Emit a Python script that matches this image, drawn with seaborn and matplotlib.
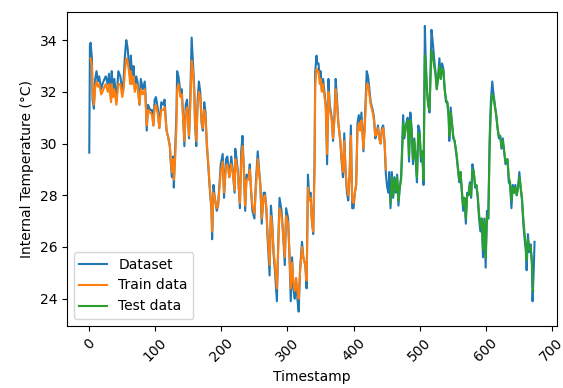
import matplotlib
matplotlib.use("Agg")
import matplotlib.pyplot as plt
import seaborn as sns
import pandas as pd

# ---- Dataset (blue) ----
data_t = [0, 1, 2, 4, 5, 7, 9, 11, 13, 15, 18, 20, 23, 25, 28, 30, 33, 34, 36, 38, 41, 44, 47, 50, 52, 54, 56, 58, 60, 62,
          63, 65, 67, 69, 71, 73, 76, 78, 81, 84, 85, 87, 89, 92, 95, 97, 99, 101, 104, 106, 109, 112, 114, 117, 119, 122,
          123, 125, 127, 128, 130, 132, 133, 135, 138, 140, 142, 144, 146, 148, 151, 153, 155, 157, 159, 160, 162, 164,
          166, 168, 170, 172, 174, 176, 178, 180, 182, 185, 186, 188, 190, 193, 195,
          199, 202, 204, 207, 209, 212, 215, 217, 220, 221, 223, 225, 228, 230, 232, 234, 236, 238, 241, 243, 245, 247,
          250, 252, 255, 257, 259, 261, 264, 266, 268, 270, 273, 275, 277, 279, 281, 284, 286, 288, 291, 293, 296, 298,
          301, 303, 305, 307, 309, 311, 313, 315, 317, 319, 322, 324, 327, 329, 331, 333, 335, 337, 339, 341, 342, 344,
          345, 347, 349, 350, 352, 354, 356, 358, 360, 362, 364, 367, 369, 371, 373, 375, 377, 380, 382, 384, 386, 388,
          390, 392, 394, 396, 398, 400, 402, 404, 406, 408, 410, 412, 415, 417, 419, 420, 422, 424, 426, 429, 431, 433,
          435, 437, 439, 441, 443, 445, 447, 449, 451, 453,
          454, 456, 458, 460, 462, 464, 466, 468, 470, 472, 474, 475, 477, 480, 482, 484, 486, 488, 490, 492, 494, 496,
          498, 500, 502, 504, 506, 508, 509, 511, 513, 515, 518, 520, 522, 524, 526, 528, 530, 532, 534, 536, 538, 540,
          542, 544, 545, 547, 549, 551, 553, 556, 558, 560, 562, 564, 566, 568, 570, 572, 574, 576, 578, 580, 582, 584,
          586, 588, 590, 592, 594, 596, 598, 600, 602, 604, 606, 608, 610, 612, 614, 616, 618, 620, 622, 624, 626, 628,
          630, 633, 635, 637, 639, 641, 643, 645, 647, 649, 651, 653, 655, 657, 659, 661, 662, 664, 666, 668, 670, 671,
          673, 674]
data_v = [29.65, 33.8, 33.9, 33.3, 31.7, 31.35, 32.5, 32.8, 32.4, 32.6, 32.1, 32.3, 32.5, 32.6, 32.3, 32.7, 31.7, 32.8,
          32.0, 32.5, 31.6, 32.8, 32.6, 32.0, 32.5, 33.4, 34.0, 33.7, 33.1, 32.5, 33.4, 32.5, 33.0, 32.1, 32.6, 32.4, 31.5,
          32.5, 32.1, 32.4, 32.0, 30.5, 31.5, 31.3, 31.3, 30.7, 31.7, 31.8, 31.3, 30.6, 31.6, 31.5, 31.7, 30.5, 30.3, 29.9,
          29.4, 28.7, 29.5, 28.3, 29.7, 31.2, 32.8, 32.6, 32.0, 32.1, 31.1, 29.9, 31.5, 31.7, 30.2, 31.9, 34.1, 33.1, 32.1,
          30.8, 29.9, 31.7, 32.4, 32.0, 30.8, 30.5, 31.6, 31.2, 29.9, 29.2, 28.4, 27.4, 26.3, 28.4, 27.9, 27.4, 27.6,
          29.2, 29.6, 27.9, 29.4, 29.5, 28.7, 29.5, 29.0, 28.1, 29.8, 29.4, 28.9, 27.5, 29.7, 30.3, 29.0, 27.4, 28.8, 28.7,
          29.2, 28.1, 27.4, 27.1, 28.4, 29.7, 29.0, 28.4, 26.9, 28.1, 28.1, 27.5, 26.3, 24.9, 27.6, 26.9, 25.7, 25.1, 23.9,
          26.1, 27.9, 27.4, 26.7, 25.3, 27.5, 27.1, 25.7, 23.9, 25.6, 24.4, 24.0, 24.8, 24.0, 23.5, 25.1, 26.2, 25.6, 25.3,
          24.4, 28.8, 27.9, 28.1, 27.0, 26.5, 29.3, 32.8, 33.4, 33.1, 33.1, 32.5, 32.8, 32.1, 32.5, 32.0, 31.5, 29.2, 32.5,
          31.5, 31.0, 30.1, 31.0, 32.5, 31.7, 30.8, 30.1, 29.3, 28.7, 30.4, 28.9, 28.1, 27.8, 28.8, 30.7, 27.5, 27.5, 28.1,
          28.4, 30.8, 31.1, 30.6, 31.2, 29.7, 30.8, 32.2, 32.8, 32.6, 32.1, 31.6, 31.3, 31.0, 30.2, 30.4, 30.7, 30.2, 30.0,
          30.6, 30.7, 30.0, 28.8, 28.3, 28.1,
          28.9, 27.5, 28.9, 27.9, 28.7, 28.1, 28.8, 27.6, 28.3, 28.7, 30.2, 31.1, 30.2, 30.8, 31.0, 29.3, 31.2, 30.6, 29.2,
          30.2, 29.4, 28.5, 30.7, 30.5, 29.3, 29.7, 28.4, 34.55, 33.5, 32.1, 31.5, 31.2, 34.4, 33.9, 33.3, 32.8, 32.1, 32.6,
          33.3, 32.5, 33.1, 32.9, 32.1, 31.6, 31.6, 31.0, 30.1, 31.4, 30.8, 30.2, 30.1, 29.5, 29.0, 28.5, 28.9, 28.1, 27.4,
          27.9, 26.9, 28.1, 28.0, 28.5, 27.9, 29.2, 28.9, 28.3, 28.4, 27.9, 27.1, 26.6, 27.1, 25.6, 27.1, 25.2, 27.4, 27.1,
          30.2, 31.7, 32.4, 31.9, 31.5, 31.1, 30.6, 30.2, 30.3, 29.8, 30.2, 29.7, 29.2, 29.4, 28.5, 28.4, 27.5, 28.4, 28.1,
          28.4, 28.0, 28.3, 28.9, 28.3, 27.8, 26.9, 26.3, 25.8, 25.1, 26.5, 25.8, 26.1, 25.3, 23.9, 25.3, 26.2]

# ---- Train predictions (orange) ----
train_t = [2, 4, 5, 7, 9, 11, 13, 15, 18, 20, 23, 25, 28, 30, 33, 34, 36, 38, 41, 44, 47, 50, 52, 54, 56, 58, 60, 62,
           63, 65, 67, 69, 71, 73, 76, 78, 81, 84, 85, 87, 89, 92, 95, 97, 99, 101, 104, 106, 109, 112, 114, 117, 119, 122,
           123, 125, 127, 128, 130, 132, 133, 135, 138, 140, 142, 144, 146, 148, 151, 153, 155, 157, 159, 160, 162, 164,
           166, 168, 170, 172, 174, 176, 178, 180, 182, 185, 186, 188, 190, 193, 195,
           199, 202, 204, 207, 209, 212, 215, 217, 220, 221, 223, 225, 228, 230, 232, 234, 236, 238, 241, 243, 245, 247,
           250, 252, 255, 257, 259, 261, 264, 266, 268, 270, 273, 275, 277, 279, 281, 284, 286, 288, 291, 293, 296, 298,
           301, 303, 305, 307, 309, 311, 313, 315, 317, 319, 322, 324, 327, 329, 331, 333, 335, 337, 339, 341, 342, 344,
           345, 347, 349, 350, 352, 354, 356, 358, 360, 362, 364, 367, 369, 371, 373, 375, 377, 380, 382, 384, 386, 388,
           390, 392, 394, 396, 398, 400, 402, 404, 406, 408, 410, 412, 415, 417, 419, 420, 422, 424, 426, 429, 431, 433,
           435, 437, 439, 441, 443, 445, 447, 449]
train_v = [33.3, 33.0, 32.0, 31.5, 32.2, 32.4, 32.2, 32.3, 31.9, 32.0, 32.2, 32.3, 32.0, 32.3, 31.6, 32.3, 31.8, 32.1,
           31.5, 32.3, 32.3, 31.8, 32.1, 32.8, 33.3, 33.2, 32.8, 32.3, 32.8, 32.3, 32.6, 32.0, 32.3, 32.2, 31.5, 32.1,
           31.9, 32.1, 31.8, 30.7, 31.3, 31.2, 31.1, 30.7, 31.4, 31.5, 31.1, 30.6, 31.3, 31.3, 31.4, 30.5, 30.3, 29.9,
           29.5, 28.9, 29.4, 28.6, 29.4, 30.7, 32.1, 32.3, 31.8, 31.9, 31.0, 30.1, 31.2, 31.4, 30.3, 31.5, 33.2, 32.8,
           31.9, 30.9, 30.1, 31.4, 32.0, 31.8, 30.9, 30.6, 31.3, 31.0, 30.0, 29.3, 28.5, 27.5, 26.6, 28.1, 27.9, 27.5,
           27.6,
           28.9, 29.3, 28.1, 29.1, 29.2, 28.7, 29.2, 28.9, 28.2, 29.4, 29.2, 28.8, 27.7, 29.3, 29.9, 29.0, 27.6, 28.6,
           28.6, 29.0, 28.2, 27.6, 27.3, 28.2, 29.4, 28.9, 28.4, 27.1, 27.9, 28.0, 27.5, 26.5, 25.3, 27.2, 26.8, 25.9,
           25.3, 24.4, 25.9, 27.5, 27.2, 26.6, 25.6, 27.2, 26.9, 25.8, 24.4, 25.4, 24.6, 24.3, 24.8, 24.3, 24.0, 25.0,
           26.0, 25.6, 25.3, 24.7, 28.3, 27.8, 27.9, 27.0, 26.6, 29.0, 32.2, 32.9, 32.8, 32.8, 32.3, 32.5, 32.0, 32.3,
           31.8, 31.4, 29.6, 32.0, 31.3, 30.9, 30.2, 30.9, 32.1, 31.5, 30.8, 30.1, 29.4, 28.9, 30.1, 28.9, 28.3, 28.0,
           28.7, 30.3, 27.8, 27.7, 28.1, 28.4, 30.5, 30.8, 30.5, 30.9, 29.8, 30.6, 31.8, 32.3, 32.3, 31.9, 31.5, 31.2,
           30.9, 30.3, 30.4, 30.6, 30.2, 30.0, 30.5, 30.6, 30.1, 29.0]

# ---- Test predictions (green) ----
test_t = [456, 458, 460, 462, 464, 466, 468, 470, 472, 474, 475, 477, 480, 482, 484, 486, 488, 490, 492, 494, 496,
          498, 500, 502, 504, 506, 508, 509, 511, 513, 515, 518, 520, 522, 524, 526, 528, 530, 532, 534, 536, 538, 540,
          542, 544, 545, 547, 549, 551, 553, 556, 558, 560, 562, 564, 566, 568, 570, 572, 574, 576, 578, 580, 582, 584,
          586, 588, 590, 592, 594, 596, 598, 600, 602, 604, 606, 608, 610, 612, 614, 616, 618, 620, 622, 624, 626, 628,
          630, 633, 635, 637, 639, 641, 643, 645, 647, 649, 651, 653, 655, 657, 659, 661, 662, 664, 666, 668, 670, 671,
          672]
test_v = [27.7, 28.7, 28.0, 28.6, 28.2, 28.7, 27.8, 28.3, 28.6, 29.9, 30.8, 30.3, 30.7, 30.9, 29.5, 30.9, 30.5, 29.4,
          30.1, 29.5, 28.7, 30.4, 30.4, 29.5, 29.7, 28.6, 33.4, 33.2, 32.1, 31.5, 31.3, 33.6, 33.4, 33.0, 32.7, 32.1,
          32.5, 33.0, 32.5, 32.9, 32.8, 32.1, 31.7, 31.6, 31.1, 30.3, 31.2, 30.8, 30.3, 30.1, 29.6, 29.1, 28.6, 28.9,
          28.2, 27.6, 27.9, 27.1, 28.0, 28.0, 28.4, 28.0, 29.0, 28.9, 28.4, 28.4, 28.0, 27.3, 26.8, 27.1, 25.9, 27.0,
          25.6, 27.2, 27.1, 29.8, 31.4, 31.9, 31.8, 31.4, 31.1, 30.6, 30.3, 30.3, 29.9, 30.1, 29.7, 29.3, 29.4, 28.7,
          28.5, 27.8, 28.3, 28.1, 28.3, 28.0, 28.3, 28.7, 28.3, 27.9, 27.1, 26.5, 26.0, 25.5, 26.3, 25.9, 26.0, 25.5,
          24.5, 24.3]

series_names = ["Dataset", "Train data", "Test data"]
series_colors = ["#1f77b4", "#ff7f0e", "#2ca02c"]

df_data = pd.DataFrame({"Timestamp": data_t, "Temp": data_v})
df_train = pd.DataFrame({"Timestamp": train_t, "Temp": train_v})
df_test = pd.DataFrame({"Timestamp": test_t, "Temp": test_v})

fig = plt.figure(figsize=(5.63, 3.88), dpi=100)
ax = fig.add_axes([0.119, 0.160, 0.870, 0.810])

for df, name, col in zip([df_data, df_train, df_test], series_names, series_colors):
    sns.lineplot(data=df, x="Timestamp", y="Temp", ax=ax, color=col, label=name,
                 estimator=None, sort=False, linewidth=1.5)

ax.set_xlabel("Timestamp")
ax.set_ylabel("Internal Temperature (°C)")
ax.set_xticks([0, 100, 200, 300, 400, 500, 600, 700])
ax.set_yticks([24, 26, 28, 30, 32, 34])
for lbl in ax.get_xticklabels():
    lbl.set_rotation(45)
ax.legend(loc="lower left")

fig.savefig("out.png", dpi=100)
